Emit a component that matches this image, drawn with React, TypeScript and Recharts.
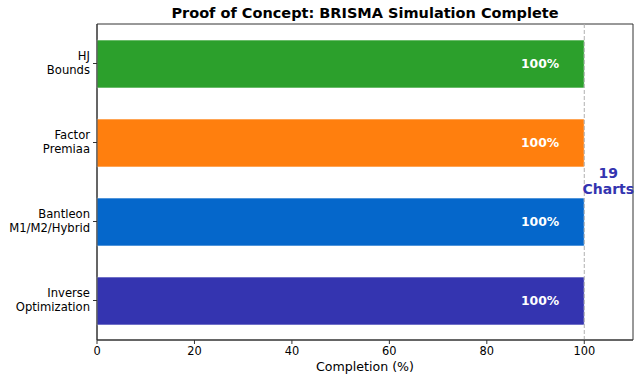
import React from "react";
import {
  BarChart,
  Bar,
  XAxis,
  YAxis,
  Cell,
  LabelList,
  ReferenceLine,
  ReferenceArea,
} from "recharts";

const categories = ["HJ\nBounds", "Factor\nPremiaa", "Bantleon\nM1/M2/Hybrid", "Inverse\nOptimization"];
const completion = [100, 100, 100, 100];
const barColors = ["#2ca02c", "#ff7f0e", "#0567cb", "#3434b0"];
const xTicks = [0, 20, 40, 60, 80, 100];
const chartsDone = 19;

const data = categories.map((name, i) => ({ name, value: completion[i] }));

const FONT = "DejaVu Sans, sans-serif";

function CategoryTick(props: any) {
  const { x, y, payload } = props;
  const lines = String(payload.value).split("\n");
  return (
    <text x={x} y={y} textAnchor="end" fontFamily={FONT} fontSize={11.6} fill="#000">
      {lines.map((l, i) => (
        <tspan key={i} x={x} y={y - 3.4 + i * 14}>
          {l}
        </tspan>
      ))}
    </text>
  );
}

function ChartsNote(props: any) {
  const { viewBox } = props;
  const cx = viewBox.x + 24;
  const cy = viewBox.y + viewBox.height / 2;
  return (
    <text textAnchor="middle" fontFamily={FONT} fontSize={14} fontWeight="bold" fill="#3434b0">
      <tspan x={cx} y={cy - 4}>{chartsDone}</tspan>
      <tspan x={cx} y={cy + 12}>Charts</tspan>
    </text>
  );
}

export default function App() {
  return (
    <div style={{ position: "absolute", left: 0, top: 0, width: 636, height: 374, background: "#fff" }}>
      <div
        style={{
          position: "absolute",
          left: 97,
          width: 536,
          top: 5,
          textAlign: "center",
          fontFamily: FONT,
          fontWeight: "bold",
          fontSize: 14.5,
          color: "#000",
        }}
      >
        Proof of Concept: BRISMA Simulation Complete
      </div>
      <BarChart
        width={636}
        height={374}
        data={data}
        layout="vertical"
        margin={{ top: 24, right: 3, bottom: 0, left: 0 }}
      >
        <XAxis
          type="number"
          domain={[0, 110]}
          ticks={xTicks}
          tickSize={4}
          tickMargin={3}
          height={34}
          stroke="#333"
          tick={{ fill: "#000", fontSize: 11.4, fontFamily: FONT }}
          label={{ value: "Completion (%)", position: "insideBottom", offset: 3, fill: "#000", fontSize: 12.6, fontFamily: FONT }}
        />
        <YAxis
          type="category"
          dataKey="name"
          width={97}
          tickSize={4}
          tickMargin={3}
          stroke="#333"
          tick={<CategoryTick />}
        />
        <ReferenceLine x={100} stroke="#b0b0b0" strokeDasharray="4 2" label={<ChartsNote />} />
        <Bar dataKey="value" barSize={48} isAnimationActive={false} stroke="#fff" strokeWidth={0.6}>
          {data.map((d, i) => (
            <Cell key={d.name} fill={barColors[i]} />
          ))}
          <LabelList
            dataKey="value"
            position="insideRight"
            offset={25}
            formatter={(v: any) => `${v}%`}
            fill="#fff"
            fontWeight="bold"
            fontSize={12.4}
            fontFamily={FONT}
          />
        </Bar>
        <ReferenceArea x1={0} x2={110} fill="none" fillOpacity={0} stroke="#333" strokeWidth={1} />
      </BarChart>
    </div>
  );
}
